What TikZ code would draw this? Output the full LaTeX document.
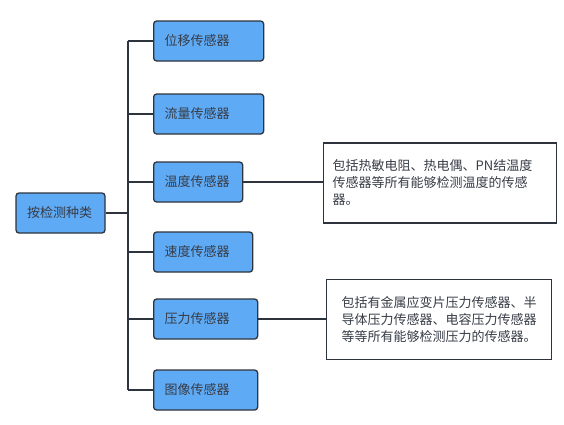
\documentclass[tikz,border=0pt]{standalone}
\usepackage{fontspec}
\newfontfamily\cjk{Noto Sans CJK SC}
\usepackage{tikz}
\usetikzlibrary{positioning}
\definecolor{boxblue}{RGB}{95,170,245}
\definecolor{edgegray}{RGB}{45,52,62}
\definecolor{textgray}{RGB}{55,60,70}
\tikzset{
x=1pt, y=1pt, % one unit is one pixel of the reference
every node/.style={font=\cjk\fontsize{13}{17}\selectfont, text=textgray},
kind/.style={draw=edgegray, line width=1.3pt, fill=boxblue, rounded corners=3pt,
  minimum height=40pt, inner xsep=11pt, align=left}, % blue sensor boxes
note/.style={draw=edgegray, line width=1.3pt, fill=white, minimum height=80pt,
  inner xsep=9pt, align=left}, % white explanation boxes
link/.style={draw=edgegray, line width=1.3pt}, % connecting lines
}
\begin{document}
\begin{tikzpicture}
            \useasboundingbox (0,0) rectangle (564,-424);
            \node[kind, minimum width=89pt, text width=67pt] (root) at (60.5,-213) {按检测种类};
            \node[kind, anchor=west, text width=88pt] (disp) at (153,-41) {位移传感器};
            \node[kind, anchor=west, text width=88pt] (flow) at (153,-114) {流量传感器};
            \node[kind, anchor=west, text width=67pt] (temp) at (153,-182) {温度传感器};
            \node[kind, anchor=west, text width=77pt] (speed) at (153,-252) {速度传感器};
            \node[kind, anchor=west, text width=82pt] (press) at (153,-319) {压力传感器};
            \node[kind, anchor=west, text width=82pt] (image) at (153,-390) {图像传感器};
            \node[note, anchor=west, text width=215pt] (tempnote) at (323,-183)
                {包括热敏电阻、热电偶、PN结温度\\传感器等所有能够检测温度的传感\\器。};
            \node[note, anchor=west, text width=195pt, inner xsep=15pt] (pressnote) at (326,-319.5)
                {包括有金属应变片压力传感器、半\\导体压力传感器、电容压力传感器\\等等所有能够检测压力的传感器。};
            % trunk junctions
            \coordinate (j1) at (128,-41);
            \coordinate (j2) at (128,-114);
            \coordinate (j3) at (128,-182);
            \coordinate (j4) at (128,-252);
            \coordinate (j5) at (128,-319);
            \coordinate (j6) at (128,-390);
            \draw[link]
                (root.east) -- (root.east -| j1)
                (j1) -- (j6)
                (j1) -- (disp.west)
                (j2) -- (flow.west)
                (j3) -- (temp.west)
                (j4) -- (speed.west)
                (j5) -- (press.west)
                (j6) -- (image.west)
                (temp.east) -- (temp.east -| tempnote.west)
                (press.east) -- (press.east -| pressnote.west)
                ;
\end{tikzpicture}
\end{document}
